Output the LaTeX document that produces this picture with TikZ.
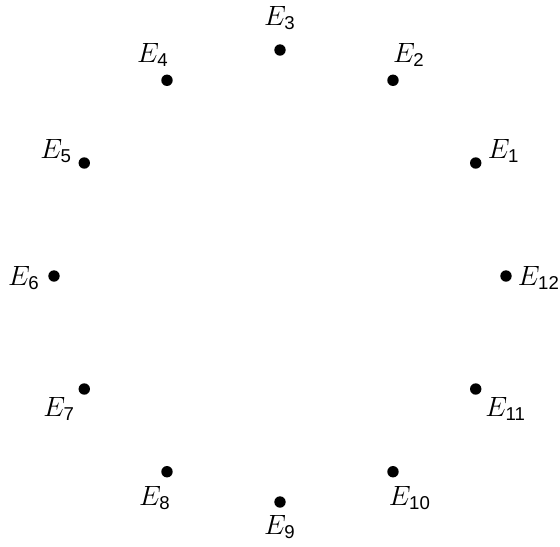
\documentclass[tikz,border=0pt]{standalone}
\usepackage{amsmath}
\usepackage{fontspec}
\setsansfont{Liberation Sans}
\usetikzlibrary{calc}
\newcommand{\Elab}[1]{$E_{\text{\sffamily #1}}$}
\begin{document}
\begin{tikzpicture}[x=0.43pt,y=-0.43pt,
  dot/.style={circle,fill=black,inner sep=0pt,minimum size=4.9pt},
  lab/.style={inner sep=0pt,font=\large}]
\useasboundingbox (0,0) rectangle (560,547);
\foreach \n/\dx/\dy in {1/28/-12,2/16/-25,3/0/-32,4/-14/-25,5/-28/-12,6/-30/2,7/-25/20,8/-12/26,9/0/25,10/17/26,11/30/20,12/33/2}{
  \node[dot] (d\n) at ({280+226*cos(30*\n)},{276-226*sin(30*\n)}) {};
  \node[lab] (l\n) at ($(d\n)+(\dx,\dy)$) {\Elab{\n}};
}
\end{tikzpicture}
\end{document}
